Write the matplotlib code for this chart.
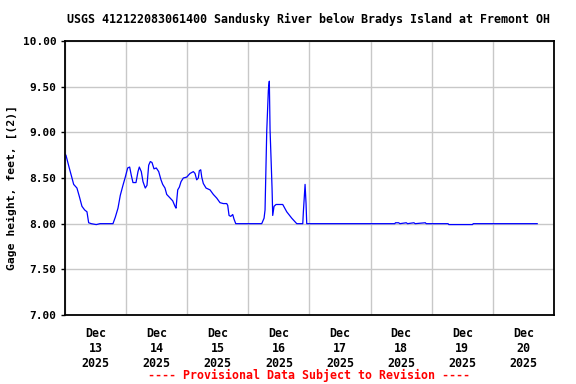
#!/usr/bin/env python3
"""USGS gage height plot - Sandusky River below Bradys Island at Fremont OH."""
import numpy as np
import matplotlib
matplotlib.use('Agg')
import matplotlib.pyplot as plt
import matplotlib.dates as mdates

# hours since 2025-12-13 00:00 and gage height (ft)
hours = [0.0, 0.39, 1.69, 2.75, 3.42, 4.71, 5.62, 6.68, 7.74, 8.64, 9.31,
         10.33, 12.29, 13.75, 18.85, 19.76, 20.82, 21.72, 22.78, 23.69,
         24.63, 25.41, 26.04, 26.71, 27.89, 28.67, 29.19, 29.97, 30.64,
         31.54, 32.21, 32.88, 33.51, 34.17, 34.96, 35.86, 36.81, 37.71,
         38.38, 39.28, 39.95, 40.97, 42.31, 43.21, 43.60, 44.27, 44.90,
         45.57, 46.47, 47.81, 49.10, 50.40, 51.06, 51.73, 52.36, 52.75,
         53.30, 53.70, 54.32, 55.39, 56.96, 58.25, 59.59, 60.88, 62.18,
         63.51, 63.91, 64.42, 65.09, 65.87, 66.38, 67.05, 77.26, 78.17,
         78.56, 79.22, 79.85, 80.24, 80.52, 80.91, 81.30, 81.58, 82.09,
         82.87, 83.78, 85.51, 87.08, 89.04, 91.01, 93.37, 93.60, 94.27,
         94.66, 94.93, 129.5, 129.75, 131.0, 131.5, 134.0, 134.5, 137.0,
         137.5, 141.5, 141.8, 150.4, 150.7, 160.0, 160.3, 185.4]
gage_ft = [8.76, 8.75, 8.61, 8.50, 8.43, 8.39, 8.30, 8.19, 8.15, 8.13, 8.01,
           8.00, 7.99, 8.00, 8.00, 8.07, 8.17, 8.31, 8.42, 8.51,
           8.61, 8.62, 8.53, 8.45, 8.45, 8.57, 8.62, 8.57, 8.46,
           8.39, 8.42, 8.64, 8.68, 8.67, 8.60, 8.61, 8.57, 8.48,
           8.43, 8.39, 8.32, 8.29, 8.25, 8.19, 8.17, 8.37, 8.40,
           8.46, 8.50, 8.51, 8.55, 8.57, 8.55, 8.48, 8.50, 8.58,
           8.59, 8.51, 8.44, 8.39, 8.37, 8.32, 8.28, 8.23, 8.22,
           8.22, 8.20, 8.09, 8.08, 8.10, 8.05, 8.00, 8.00, 8.06,
           8.15, 9.01, 9.46, 9.56, 9.03, 8.72, 8.39, 8.09, 8.19,
           8.21, 8.21, 8.21, 8.13, 8.06, 8.00, 8.00, 8.13, 8.43,
           8.22, 8.00, 8.00, 8.01, 8.01, 8.00, 8.01, 8.00, 8.01,
           8.00, 8.01, 8.00, 8.00, 7.99, 7.99, 8.00, 8.00]

start = np.datetime64('2025-12-13T00:00')
times = start + (np.array(hours) * 60).astype('timedelta64[m]')

FONT = 'DejaVu Sans Mono'
plt.rcParams['font.family'] = FONT
plt.rcParams['font.weight'] = 'bold'

fig = plt.figure(figsize=(5.76, 3.84), dpi=100)
ax = fig.add_axes([0.1128, 0.1797, 0.849, 0.7135])

ax.plot(times, gage_ft, color='#0000FF', lw=0.9)

ax.set_xlim(np.datetime64('2025-12-13T00:00'), np.datetime64('2025-12-21T00:00'))
ax.set_ylim(7.0, 10.0)
ax.set_yticks(np.arange(7.0, 10.01, 0.5))
ax.yaxis.set_major_formatter(plt.FuncFormatter(lambda v, p: f"{v:.2f}"))

ax.xaxis.set_major_locator(mdates.DayLocator())
ax.xaxis.set_major_formatter(plt.NullFormatter())
ax.xaxis.set_minor_locator(mdates.HourLocator(byhour=12))
ax.xaxis.set_minor_formatter(mdates.DateFormatter('%b\n%d\n%Y'))

ax.grid(True, which='major', color='#C8C8C8', lw=1.0)
ax.set_axisbelow(True)
for s in ax.spines.values():
    s.set_linewidth(1.3)
    s.set_color('black')

ax.tick_params(axis='y', length=3, width=1, labelsize=8, pad=3)
ax.tick_params(axis='x', which='major', length=0)
ax.tick_params(axis='x', which='minor', length=0, labelsize=8.4, pad=9)

fig.text(0.5356, 0.9505, "USGS 412122083061400 Sandusky River below Bradys Island at Fremont OH",
         ha='center', va='center', fontsize=8.4, fontweight='bold')
fig.text(0.021, 0.512, "Gage height, feet, [(2)]", rotation=90,
         ha='center', va='center', fontsize=8.2, fontweight='bold')
fig.text(0.536, 0.0234, "---- Provisional Data Subject to Revision ----",
         ha='center', va='center', fontsize=8.4, fontweight='bold', color='#FF0000')

fig.savefig('out.png', dpi=100, facecolor='white')
